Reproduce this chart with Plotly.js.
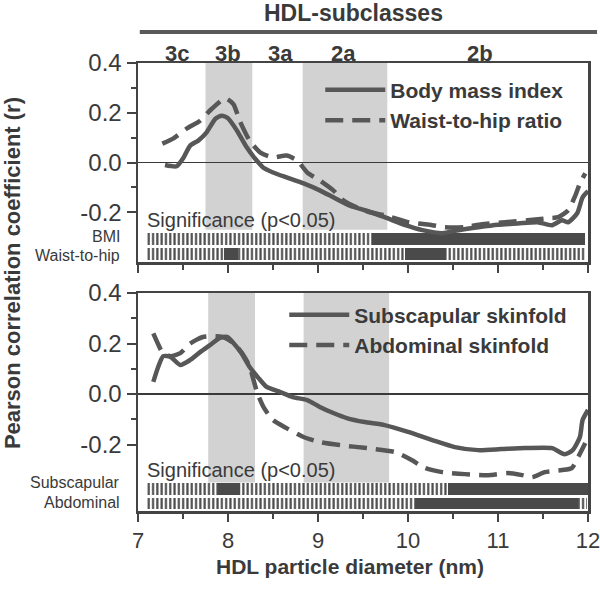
<!DOCTYPE html>
<html>
<head>
<meta charset="utf-8">
<script src="https://cdn.plot.ly/plotly-3.0.1.min.js"></script>
<style>html,body{margin:0;padding:0;background:#fff;}#chart{width:600px;height:593px;}</style>
</head>
<body>
<div id="chart"></div>
<script>
// ---------- data ----------
// Top panel
const bmiX = [7.3, 7.43, 7.5, 7.58, 7.67, 7.76, 7.86, 7.93, 8.0, 8.1, 8.21, 8.3, 8.39, 8.5, 8.65, 8.84, 9.02, 9.17, 9.36, 9.52, 9.74, 9.97, 10.16, 10.38, 10.56, 10.78, 11.0, 11.22, 11.44, 11.6, 11.71, 11.78, 11.88, 11.94, 12.0];
const bmiY = [-0.01, -0.015, 0.016, 0.068, 0.088, 0.12, 0.176, 0.188, 0.178, 0.128, 0.06, 0.016, -0.02, -0.04, -0.06, -0.084, -0.112, -0.14, -0.175, -0.192, -0.22, -0.252, -0.272, -0.284, -0.272, -0.26, -0.25, -0.245, -0.24, -0.252, -0.232, -0.24, -0.204, -0.14, -0.115];
const whrX = [7.27, 7.39, 7.54, 7.69, 7.82, 7.97, 8.06, 8.13, 8.24, 8.36, 8.5, 8.65, 8.77, 8.88, 9.02, 9.17, 9.28, 9.43, 9.58, 9.74, 10.0, 10.27, 10.41, 10.63, 10.82, 11.08, 11.33, 11.56, 11.67, 11.78, 11.86, 11.91, 11.97];
const whrY = [0.076, 0.096, 0.136, 0.168, 0.216, 0.258, 0.235, 0.168, 0.088, 0.04, 0.02, 0.028, 0.008, -0.04, -0.072, -0.112, -0.152, -0.18, -0.2, -0.212, -0.24, -0.252, -0.26, -0.26, -0.248, -0.24, -0.232, -0.224, -0.22, -0.192, -0.132, -0.084, -0.044];
// Bottom panel
const subX = [7.17, 7.22, 7.28, 7.36, 7.47, 7.58, 7.69, 7.8, 7.91, 7.99, 8.06, 8.15, 8.24, 8.34, 8.43, 8.58, 8.72, 8.88, 9.02, 9.17, 9.32, 9.52, 9.74, 10.0, 10.27, 10.52, 10.78, 11.04, 11.3, 11.6, 11.74, 11.83, 11.91, 11.94, 12.0];
const subY = [0.048, 0.103, 0.15, 0.147, 0.115, 0.135, 0.166, 0.194, 0.222, 0.226, 0.202, 0.162, 0.107, 0.063, 0.028, 0.008, -0.012, -0.024, -0.051, -0.075, -0.095, -0.111, -0.123, -0.15, -0.182, -0.21, -0.222, -0.218, -0.214, -0.214, -0.238, -0.222, -0.17, -0.103, -0.063];
const abdX = [7.17, 7.22, 7.27, 7.36, 7.47, 7.58, 7.72, 7.94, 8.06, 8.15, 8.24, 8.28, 8.33, 8.4, 8.5, 8.65, 8.84, 9.02, 9.24, 9.54, 9.86, 10.04, 10.19, 10.38, 10.63, 10.89, 11.11, 11.27, 11.38, 11.52, 11.71, 11.82, 11.89, 11.97];
const abdY = [0.24, 0.2, 0.166, 0.15, 0.162, 0.2, 0.226, 0.226, 0.202, 0.165, 0.11, 0.06, 0.0, -0.055, -0.103, -0.135, -0.17, -0.19, -0.202, -0.214, -0.23, -0.261, -0.293, -0.309, -0.317, -0.321, -0.313, -0.321, -0.329, -0.309, -0.301, -0.293, -0.25, -0.194];

// Significance segments (filled = p<0.05)
const bmiSigStart = [7.1, 9.6];
const bmiSigEnd = [9.6, 11.97];
const bmiSigFilled = [false, true];
const whrSigStart = [7.1, 7.96, 8.11, 9.97, 10.41];
const whrSigEnd = [7.96, 8.11, 9.97, 10.41, 11.97];
const whrSigFilled = [false, true, false, true, false];
const subSigStart = [7.1, 7.89, 8.13, 10.44];
const subSigEnd = [7.89, 8.13, 10.44, 12.0];
const subSigFilled = [false, true, false, true];
const abdSigStart = [7.1, 10.08, 11.89];
const abdSigEnd = [10.08, 11.89, 11.99];
const abdSigFilled = [false, true, false];

// Shaded HDL subclass ranges (3b and 2a)
const shadeTopStart = [7.75, 8.83];
const shadeTopEnd = [8.27, 9.77];
const shadeBotStart = [7.78, 8.84];
const shadeBotEnd = [8.3, 9.79];

// Subclass labels
const subclassNames = ['3c', '3b', '3a', '2a', '2b'];
const subclassX = [7.43, 8.0, 8.58, 9.28, 10.8];

// Axis ticks
const xTickVals = [7, 8, 9, 10, 11, 12];
const xTickText = ['7', '8', '9', '10', '11', '12'];
const yTickVals = [-0.2, 0, 0.2, 0.4];
const yTickText = ['-0.2', '0.0', '0.2', '0.4'];
const yMinorVals = [-0.1, 0.1, 0.3];

// ---------- styling ----------
const FONT = 'Liberation Sans, Arial, Helvetica, sans-serif';
const TXT = '#3a3a3a';
const LINE = '#575757';
const BAR = '#4a4a4a';

function lineTrace(x, y, name, dashed, xa, ya, legend) {
  return {
    type: 'scatter', mode: 'lines', x: x, y: y, name: name,
    xaxis: xa, yaxis: ya, legend: legend,
    line: {color: LINE, width: 4.5, dash: dashed ? '18px,9px' : 'solid', shape: 'spline', smoothing: 0.6},
    hoverinfo: 'skip'
  };
}

function sigTraces(starts, ends, filled, rowY, xa, ya) {
  const out = [];
  [false, true].forEach(function (isFilled) {
    const base = [], len = [], yy = [];
    for (let i = 0; i < starts.length; i++) {
      if (filled[i] === isFilled) {
        base.push(starts[i]); len.push(ends[i] - starts[i]); yy.push(rowY);
      }
    }
    if (!base.length) return;
    const marker = {color: isFilled ? BAR : '#ffffff', line: {width: 0}};
    if (!isFilled) {
      marker.pattern = {shape: '|', fgcolor: BAR, bgcolor: '#ffffff', size: 4.3, solidity: 0.5, fillmode: 'replace'};
    }
    out.push({
      type: 'bar', orientation: 'h', base: base, x: len, y: yy, width: 0.046,
      xaxis: xa, yaxis: ya, marker: marker, showlegend: false, hoverinfo: 'skip'
    });
  });
  return out;
}

const traces = [].concat(
  sigTraces(bmiSigStart, bmiSigEnd, bmiSigFilled, -0.308, 'x', 'y'),
  sigTraces(whrSigStart, whrSigEnd, whrSigFilled, -0.368, 'x', 'y'),
  sigTraces(subSigStart, subSigEnd, subSigFilled, -0.377, 'x2', 'y2'),
  sigTraces(abdSigStart, abdSigEnd, abdSigFilled, -0.434, 'x2', 'y2'),
  [
    lineTrace(bmiX, bmiY, 'Body mass index', false, 'x', 'y', 'legend'),
    lineTrace(whrX, whrY, 'Waist-to-hip ratio', true, 'x', 'y', 'legend'),
    lineTrace(subX, subY, 'Subscapular skinfold', false, 'x2', 'y2', 'legend2'),
    lineTrace(abdX, abdY, 'Abdominal skinfold', true, 'x2', 'y2', 'legend2')
  ]
);

const shapes = [];
for (let i = 0; i < shadeTopStart.length; i++) {
  shapes.push({type: 'rect', xref: 'x', yref: 'y', x0: shadeTopStart[i], x1: shadeTopEnd[i], y0: -0.27, y1: 0.4,
    fillcolor: '#d2d2d2', line: {width: 0}, layer: 'below'});
}
for (let i = 0; i < shadeBotStart.length; i++) {
  shapes.push({type: 'rect', xref: 'x2', yref: 'y2', x0: shadeBotStart[i], x1: shadeBotEnd[i], y0: -0.35, y1: 0.4,
    fillcolor: '#d2d2d2', line: {width: 0}, layer: 'below'});
}
// HDL-subclasses header rule
shapes.push({type: 'line', xref: 'paper', yref: 'paper', x0: 0.004, x1: 1.02, y0: 1.069, y1: 1.069,
  line: {color: '#5a5a5a', width: 4}});

const annotations = [];
subclassNames.forEach(function (n, i) {
  annotations.push({text: n, x: subclassX[i], xref: 'x', y: 1.022, yref: 'paper', showarrow: false,
    font: {family: FONT, size: 22, color: TXT, weight: 'bold'}, xanchor: 'center', yanchor: 'middle'});
});
annotations.push({text: 'HDL-subclasses', x: 0.478, xref: 'paper', y: 1.1116, yref: 'paper', showarrow: false,
  font: {family: FONT, size: 23, color: TXT, weight: 'bold'}, xanchor: 'center', yanchor: 'middle'});
annotations.push({text: 'Significance (p<0.05)', x: 7.08, xref: 'x', y: -0.232, yref: 'y', showarrow: false,
  font: {family: FONT, size: 20, color: TXT}, xanchor: 'left', yanchor: 'middle'});
annotations.push({text: 'Significance (p<0.05)', x: 7.08, xref: 'x2', y: -0.30, yref: 'y2', showarrow: false,
  font: {family: FONT, size: 20, color: TXT}, xanchor: 'left', yanchor: 'middle'});
[['BMI', -0.298, 'y'], ['Waist-to-hip', -0.374, 'y'], ['Subscapular', -0.35, 'y2'], ['Abdominal', -0.428, 'y2']].forEach(function (r) {
  annotations.push({text: r[0], x: -0.036, xref: 'paper', y: r[1], yref: r[2], showarrow: false,
    font: {family: FONT, size: 16, color: TXT}, xanchor: 'right', yanchor: 'middle'});
});
annotations.push({text: 'Pearson correlation coefficient (r)', x: -0.28, xref: 'paper', y: 0.531, yref: 'paper',
  showarrow: false, textangle: -90, font: {family: FONT, size: 22, color: TXT, weight: 'bold'},
  xanchor: 'center', yanchor: 'middle'});
annotations.push({text: 'HDL particle diameter (nm)', x: 0.471, xref: 'paper', y: -0.124, yref: 'paper',
  showarrow: false, font: {family: FONT, size: 21, color: TXT, weight: 'bold'}, xanchor: 'center', yanchor: 'middle'});

function xAxis(labels, anchor) {
  return {
    domain: [0, 1], range: [7, 12], anchor: anchor, showline: true, mirror: true, linecolor: '#444', linewidth: 2.5,
    ticks: 'outside', ticklen: 8, tickwidth: 2, tickcolor: '#444', tickmode: 'array', tickvals: xTickVals, ticktext: xTickText,
    showticklabels: labels, tickfont: {family: FONT, size: 22, color: TXT}, showgrid: false, zeroline: false,
    ticklabeloverflow: 'allow', automargin: false,
    minor: {ticks: 'outside', ticklen: 5, tickwidth: 2, tickcolor: '#444', dtick: 0.5, tick0: 7, showgrid: false},
    fixedrange: true
  };
}
function yAxis(domain, range, anchor) {
  return {
    domain: domain, range: range, anchor: anchor, showline: true, mirror: true, linecolor: '#444', linewidth: 2.5,
    ticks: 'outside', ticklen: 9, tickwidth: 2, tickcolor: '#444', tickmode: 'array', tickvals: yTickVals, ticktext: yTickText,
    tickfont: {family: FONT, size: 24, color: TXT}, showgrid: false, automargin: false,
    zeroline: true, zerolinecolor: '#3a3a3a', zerolinewidth: 1.8,
    minor: {ticks: 'outside', ticklen: 5, tickwidth: 2, tickcolor: '#444', tickmode: 'array', tickvals: yMinorVals, showgrid: false},
    fixedrange: true
  };
}

const legendFont = {family: FONT, size: 21, color: TXT, weight: 'bold'};
const layout = {
  width: 600, height: 593,
  margin: {l: 138, r: 12, t: 63, b: 82},
  paper_bgcolor: '#ffffff', plot_bgcolor: '#ffffff',
  barmode: 'overlay', bargap: 0,
  showlegend: true,
  xaxis: xAxis(false, 'y'),
  yaxis: yAxis([0.5558, 1], [-0.4, 0.4], 'x'),
  xaxis2: Object.assign(xAxis(true, 'y2'), {matches: 'x'}),
  yaxis2: yAxis([0, 0.4866], [-0.463, 0.4], 'x2'),
  legend: {x: 0.405, y: 0.985, xanchor: 'left', yanchor: 'top', bgcolor: 'rgba(0,0,0,0)', borderwidth: 0,
    font: legendFont, tracegroupgap: 0, itemwidth: 60},
  legend2: {x: 0.325, y: 0.483, xanchor: 'left', yanchor: 'top', bgcolor: 'rgba(0,0,0,0)', borderwidth: 0,
    font: legendFont, tracegroupgap: 0, itemwidth: 60},
  shapes: shapes,
  annotations: annotations
};

Plotly.newPlot('chart', traces, layout, {displayModeBar: false, staticPlot: true});
</script>
</body>
</html>
